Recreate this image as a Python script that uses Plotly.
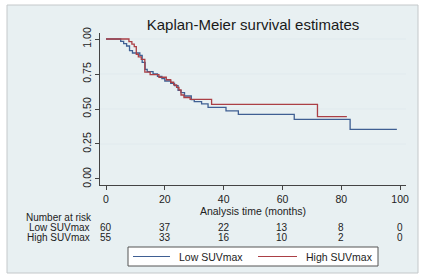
import plotly.graph_objects as go

# ---- data ----
low_t = [0, 5, 6, 7, 8, 9, 11.5, 12.3, 13.3, 14, 16, 17.5, 19, 20, 22, 23.3, 24.5, 25.5,
         26.7, 29, 30, 32.5, 34.7, 40.8, 45, 64, 83, 98.9]
low_s = [1.0, 0.983, 0.967, 0.95, 0.917, 0.90, 0.883, 0.833, 0.783, 0.767, 0.75, 0.733,
         0.717, 0.70, 0.683, 0.667, 0.633, 0.617, 0.593, 0.567, 0.552, 0.536, 0.512,
         0.486, 0.462, 0.426, 0.355, 0.355]
high_t = [0, 7.8, 8.8, 9.6, 10.3, 11, 12, 13.2, 15, 18, 20.5, 22, 23, 24, 24.8, 25.5,
          26.5, 28.6, 35.9, 71.9, 81.9]
high_s = [1.0, 0.982, 0.964, 0.945, 0.891, 0.873, 0.855, 0.764, 0.745, 0.727, 0.709,
          0.691, 0.673, 0.655, 0.636, 0.60, 0.582, 0.569, 0.533, 0.445, 0.445]

risk_times = [0, 20, 40, 60, 80, 100]
risk_low = [60, 37, 22, 13, 8, 0]
risk_high = [55, 33, 16, 10, 2, 0]
group_names = ["Low SUVmax", "High SUVmax"]
y_ticks = [0, 0.25, 0.5, 0.75, 1.0]
y_ticklabels = ["0.00", "0.25", "0.50", "0.75", "1.00"]
x_ticks = [0, 20, 40, 60, 80, 100]

BLUE = "#3f5f93"
RED = "#ab3f45"
FONT = "Liberation Sans, Arial, sans-serif"
TXT = "#222222"
FS = 10

fig = go.Figure()
fig.add_trace(go.Scatter(x=low_t, y=low_s, mode="lines", line=dict(color=BLUE, width=1.3, shape="hv"),
                         name=group_names[0], showlegend=False))
fig.add_trace(go.Scatter(x=high_t, y=high_s, mode="lines", line=dict(color=RED, width=1.3, shape="hv"),
                         name=group_names[1], showlegend=False))

W, H = 424, 279
L, R, T, B = 100, 18, 33, 94
pw, ph = W - L - R, H - T - B


def py2p(py):
    return (H - B - py) / ph


def px2p(px):
    return (px - L) / pw


shapes = []
# outer graph region
shapes.append(dict(type="rect", xref="paper", yref="paper", x0=px2p(7), x1=px2p(418),
                   y0=py2p(273), y1=py2p(5), fillcolor="#e8f0f2",
                   line=dict(color="#c4c8ca", width=1), layer="below"))
# gridlines
for v in y_ticks[1:]:
    shapes.append(dict(type="line", xref="paper", yref="y", x0=0, x1=1, y0=v, y1=v,
                       line=dict(color="#e1eaee", width=1), layer="below"))
# legend box
shapes.append(dict(type="rect", xref="paper", yref="paper", x0=px2p(128), x1=px2p(378),
                   y0=py2p(266), y1=py2p(247), fillcolor="white",
                   line=dict(color="#555555", width=1)))

annotations = []
legend_items = [(group_names[0], BLUE, 133, 170, 177), (group_names[1], RED, 258, 297, 304)]
for name, col, lx0, lx1, tx in legend_items:
    shapes.append(dict(type="line", xref="paper", yref="paper", x0=px2p(lx0), x1=px2p(lx1),
                       y0=py2p(256.5), y1=py2p(256.5), line=dict(color=col, width=1.2)))
    annotations.append(dict(text=name, x=px2p(tx), y=py2p(256.5), xref="paper", yref="paper",
                            xanchor="left", yanchor="middle", showarrow=False,
                            font=dict(size=10.5, color=TXT, family=FONT)))

annotations.append(dict(text="Number at risk", x=px2p(24), y=py2p(217.5), xref="paper", yref="paper",
                        xanchor="left", yanchor="middle", showarrow=False,
                        font=dict(size=FS, color=TXT, family=FONT)))
for name, row, py in [(group_names[0], risk_low, 227.5), (group_names[1], risk_high, 237.5)]:
    annotations.append(dict(text=name, x=px2p(92), y=py2p(py), xref="paper", yref="paper",
                            xanchor="right", yanchor="middle", showarrow=False,
                            font=dict(size=FS, color=TXT, family=FONT)))
    for t, n in zip(risk_times, row):
        annotations.append(dict(text=str(n), x=t, y=py2p(py), xref="x", yref="paper",
                                xanchor="center", yanchor="middle", showarrow=False,
                                font=dict(size=FS, color=TXT, family=FONT)))

fig.update_layout(
    width=W, height=H,
    margin=dict(l=L, r=R, t=T, b=B, autoexpand=False),
    paper_bgcolor="white", plot_bgcolor="white",
    font=dict(family=FONT, size=10.5, color=TXT),
    showlegend=False,
    title=dict(text="Kaplan-Meier survival estimates", x=253 / W,
               xanchor="center", y=1 - 25 / H, yanchor="middle",
               font=dict(size=15, color="#1a1a1a", family=FONT)),
    xaxis=dict(range=[-2.04, 102], tickvals=x_ticks, ticks="outside", ticklen=4,
               tickcolor="#444", showline=True, linecolor="#444", linewidth=1,
               showgrid=False, zeroline=False, automargin=False,
               title=dict(text="Analysis time (months)", standoff=0,
                          font=dict(size=10.5, color=TXT, family=FONT)),
               tickfont=dict(size=10.5, color=TXT, family=FONT)),
    yaxis=dict(range=[-0.043, 1.043], tickvals=y_ticks, ticktext=y_ticklabels,
               ticks="outside", ticklen=4, tickcolor="#444", showline=True, linecolor="#444",
               linewidth=1, showgrid=False, zeroline=False, tickangle=-90, automargin=False,
               tickfont=dict(size=10.5, color=TXT, family=FONT)),
    shapes=shapes,
    annotations=annotations,
)

fig.write_html("out.html", config={"displayModeBar": False},
               post_script="document.body.style.margin='0';")
